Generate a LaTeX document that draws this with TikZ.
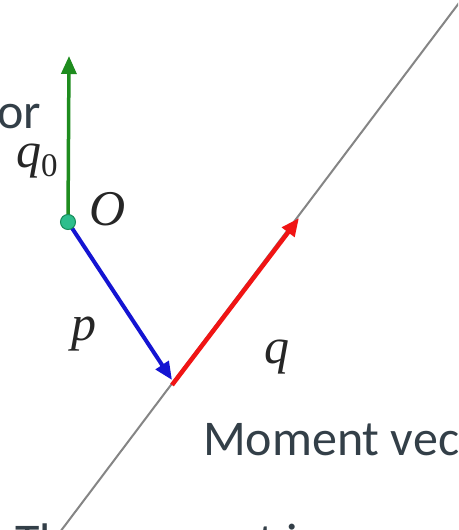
\documentclass[tikz,border=0pt]{standalone}
\usepackage{fontspec}
\setmainfont{Carlito}
\newfontfamily\serifit{Liberation Serif}
\usetikzlibrary{arrows.meta}
\definecolor{txt}{HTML}{333F48}
\definecolor{linegray}{HTML}{858585}
\definecolor{vgreen}{HTML}{1E8C1E}
\definecolor{vblue}{HTML}{1414D2}
\definecolor{vred}{HTML}{F01414}
\definecolor{dotfill}{HTML}{2DBE8C}
\definecolor{dotdraw}{HTML}{168C5A}
\begin{document}
\begin{tikzpicture}[x=1pt,y=-1pt,
  slide/.style={font=\fontsize{50}{60}\selectfont, text=txt, inner sep=0pt},
  sym/.style={font=\fontsize{50}{60}\selectfont\serifit\itshape, text=black!85, inner sep=0pt},
  vec/.style={line width=4pt, -{Triangle[length=18pt,width=15pt]}},
]
\useasboundingbox (0,0) rectangle (458,530);
\clip (0,0) rectangle (458,530);
\fill[white] (0,0) rectangle (458,530);
% the line
\coordinate (L1) at (54,540);
\coordinate (L2) at (465,-5);
\draw[linegray, line width=2pt] (L1) -- (L2);
% points
\coordinate (o) at (68,222);
\coordinate (gt) at (69,56);
\coordinate (bt) at (172,380);
\coordinate (rs) at (172,385);
\coordinate (rt) at (299,218);
% vectors
\draw[vec, vgreen, line width=3.5pt] (o) -- (gt);
\draw[vec, vblue] (o) -- (bt);
\draw[vec, vred, line width=4.5pt] (rs) -- (rt);
\node[circle, fill=dotfill, draw=dotdraw, line width=1pt, minimum size=15pt, inner sep=0pt] (Odot) at (o) {};
% labels
\node[slide, anchor=base east] (orlbl) at (41,128) {or};
\node[sym, anchor=base west] (q0lbl) at (16,167) {q\raisebox{-9pt}{\fontsize{33}{36}\selectfont\upshape 0}};
\node[sym, anchor=base west] (Olbl) at (89,225) {O};
\node[sym, anchor=base west] (plbl) at (71,340) {p};
\node[sym, anchor=base west] (qlbl) at (264,363) {q};
\node[slide, anchor=base west] (mvlbl) at (203,455) {Moment vector};
\node[slide, anchor=base west] (btm) at (15,558) {The moment is};
\end{tikzpicture}
\end{document}
